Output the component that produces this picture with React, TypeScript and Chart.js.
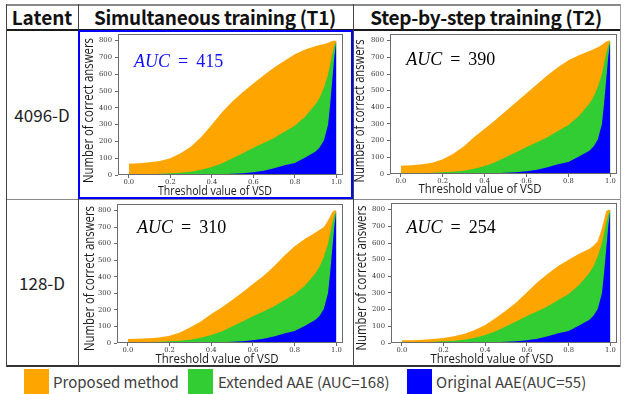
import React, { useEffect, useRef } from "react";
import { Chart, registerables } from "chart.js";
Chart.register(...registerables);

// ---------- data ----------
const X_VALUES = [0, 0.05, 0.1, 0.15, 0.2, 0.25, 0.3, 0.35, 0.4, 0.45, 0.5, 0.55, 0.6, 0.65, 0.7, 0.75, 0.8, 0.85, 0.9, 0.92, 0.94, 0.96, 0.97, 0.98, 0.99, 1.0];
const X_TICKS = [0, 0.2, 0.4, 0.6, 0.8, 1.0];
const Y_TICKS = [0, 100, 200, 300, 400, 500, 600, 700, 800];

const ORIGINAL_AAE = [0, 0, 0, 0, 0, 0, 0, 0, 2, 4, 7, 10, 16, 26, 40, 58, 72, 105, 140, 165, 205, 300, 420, 560, 700, 800];
const EXTENDED_AAE = [2, 3, 5, 7, 10, 14, 20, 32, 48, 70, 100, 130, 162, 190, 220, 258, 294, 348, 422, 462, 520, 600, 660, 720, 770, 800];
const PROPOSED_T1_4096 = [67, 70, 76, 84, 100, 130, 170, 228, 300, 375, 440, 495, 545, 595, 640, 680, 720, 748, 768, 775, 780, 788, 792, 798, 800, 800];
const PROPOSED_T2_4096 = [50, 52, 58, 68, 88, 122, 165, 222, 272, 322, 376, 430, 484, 538, 592, 640, 682, 712, 738, 748, 760, 775, 785, 795, 800, 800];
const PROPOSED_T1_128 = [24, 25, 28, 33, 44, 64, 95, 130, 175, 215, 260, 306, 356, 405, 462, 528, 585, 630, 668, 685, 700, 740, 765, 790, 800, 800];
const PROPOSED_T2_128 = [16, 17, 20, 24, 30, 40, 55, 78, 108, 150, 195, 245, 305, 365, 415, 462, 500, 535, 565, 585, 612, 688, 740, 790, 800, 800];

const AUC_VALUES = [415, 390, 310, 254];
const ROW_LABELS = ["4096-D", "128-D"];
const HEADER_LABELS = ["Latent", "Simultaneous training (T1)", "Step-by-step training (T2)"];
const LEGEND_LABELS = ["Proposed method", "Extended AAE (AUC=168)", "Original AAE(AUC=55)"];
const X_TITLE = "Threshold value of VSD";
const Y_TITLE = "Number of correct answers";

// ---------- styles ----------
const ORANGE = "#FFA500";
const GREEN = "#32CD32";
const BLUE = "#0000FF";
const X_MIN = -0.052;
const X_MAX = 1.032;
const Y_MIN = 0;
const Y_MAX = 840;

type Rect = { l: number; t: number; r: number; b: number };
type PanelSpec = {
  proposed: number[];
  auc: number;
  aucColor: string;
  canvas: { x: number; y: number; w: number; h: number };
  frame: Rect;
  aucPos: { dx: number; dy: number };
  yTitle: { dx: number; dy: number; len: number };
  xTitle: { dx: number; dy: number; len: number };
};

const PANELS: PanelSpec[] = [
  {
    proposed: PROPOSED_T1_4096, auc: AUC_VALUES[0], aucColor: "#1010ff",
    canvas: { x: 80, y: 31, w: 270, h: 166 },
    frame: { l: 118, t: 34, r: 343, b: 175 },
    aucPos: { dx: 16, dy: 32.5 },
    yTitle: { dx: -29.5, dy: 76.5, len: 145 },
    xTitle: { dx: 97, dy: 16, len: 114 },
  },
  {
    proposed: PROPOSED_T2_4096, auc: AUC_VALUES[1], aucColor: "#000000",
    canvas: { x: 354, y: 31, w: 265, h: 166 },
    frame: { l: 390, t: 34, r: 617, b: 174 },
    aucPos: { dx: 16.2, dy: 31 },
    yTitle: { dx: -30, dy: 77, len: 143 },
    xTitle: { dx: 90, dy: 15.5, len: 123 },
  },
  {
    proposed: PROPOSED_T1_128, auc: AUC_VALUES[2], aucColor: "#000000",
    canvas: { x: 80, y: 201, w: 270, h: 164 },
    frame: { l: 117, t: 204, r: 343, b: 343 },
    aucPos: { dx: 20, dy: 29.3 },
    yTitle: { dx: -27.5, dy: 74.5, len: 145 },
    xTitle: { dx: 100, dy: 16, len: 123 },
  },
  {
    proposed: PROPOSED_T2_128, auc: AUC_VALUES[3], aucColor: "#000000",
    canvas: { x: 354, y: 201, w: 265, h: 164 },
    frame: { l: 391, t: 203, r: 617, b: 343 },
    aucPos: { dx: 15.5, dy: 29.5 },
    yTitle: { dx: -29, dy: 75, len: 145 },
    xTitle: { dx: 101, dy: 16, len: 123 },
  },
];

function fitText(ctx: CanvasRenderingContext2D, text: string, cx: number, cy: number, width: number, size: number, rotate: boolean) {
  ctx.save();
  ctx.font = `${size}px "Open Sans"`;
  const w = ctx.measureText(text).width;
  ctx.translate(cx, cy);
  if (rotate) ctx.rotate(-Math.PI / 2);
  ctx.scale(width / w, 1);
  ctx.textAlign = "center";
  ctx.textBaseline = "middle";
  ctx.fillStyle = "#1a1a1a";
  ctx.fillText(text, 0, 0);
  ctx.restore();
}

function Panel({ spec }: { spec: PanelSpec }) {
  const ref = useRef<HTMLCanvasElement | null>(null);
  useEffect(() => {
    const canvas = ref.current;
    if (!canvas) return;
    const { canvas: cv, frame } = spec;
    const yWidth = frame.l - cv.x;
    const xHeight = cv.y + cv.h - frame.b;
    const padTop = frame.t - cv.y;
    const padRight = cv.x + cv.w - frame.r;

    const deco = {
      id: "deco",
      afterDraw(chart: any) {
        const ctx: CanvasRenderingContext2D = chart.ctx;
        const a = chart.chartArea;
        ctx.save();
        ctx.strokeStyle = "#6b6b6b";
        ctx.lineWidth = 1;
        ctx.strokeRect(a.left + 0.5, a.top + 0.5, a.right - a.left - 1, a.bottom - a.top - 1);
        ctx.restore();
        // AUC annotation
        const x0 = a.left + spec.aucPos.dx;
        const y0 = a.top + spec.aucPos.dy;
        ctx.save();
        ctx.fillStyle = spec.aucColor;
        ctx.textBaseline = "alphabetic";
        ctx.textAlign = "left";
        ctx.font = 'italic 18px "Liberation Serif"';
        const wAuc = ctx.measureText("AUC").width;
        ctx.fillText("AUC", x0, y0);
        ctx.font = '18px "Liberation Serif"';
        const xEq = x0 + wAuc + 8;
        const wEq = ctx.measureText("=").width;
        ctx.fillText("=", xEq, y0);
        ctx.fillText(String(spec.auc), xEq + wEq + 8, y0);
        ctx.restore();
        // axis titles
        fitText(ctx, Y_TITLE, a.left + spec.yTitle.dx, a.top + spec.yTitle.dy, spec.yTitle.len, 14.5, true);
        fitText(ctx, X_TITLE, a.left + spec.xTitle.dx, a.bottom + spec.xTitle.dy, spec.xTitle.len, 13.5, false);
      },
    };

    const mk = (vals: number[]) => X_VALUES.map((x, i) => ({ x, y: vals[i] }));
    const tickFont = { family: "DejaVu Serif", size: 6.8 };
    const grid = { display: true, drawOnChartArea: false, drawTicks: true, tickLength: 3, color: "#444", lineWidth: 0.8 };

    const chart = new Chart(canvas, {
      type: "line",
      data: {
        datasets: [
          { label: "Original AAE", data: mk(ORIGINAL_AAE), backgroundColor: BLUE, borderColor: BLUE, borderWidth: 0, pointRadius: 0, fill: "origin" },
          { label: "Extended AAE", data: mk(EXTENDED_AAE), backgroundColor: GREEN, borderColor: GREEN, borderWidth: 0, pointRadius: 0, fill: "origin" },
          { label: "Proposed method", data: mk(spec.proposed), backgroundColor: ORANGE, borderColor: ORANGE, borderWidth: 0, pointRadius: 0, fill: "origin" },
        ],
      } as any,
      options: {
        animation: false,
        responsive: false,
        devicePixelRatio: 1,
        layout: { padding: { left: 0, top: padTop, right: padRight, bottom: 0 } },
        elements: { line: { tension: 0 } },
        plugins: { legend: { display: false }, tooltip: { enabled: false } },
        scales: {
          x: {
            type: "linear",
            min: X_MIN,
            max: X_MAX,
            grid,
            border: { display: false },
            ticks: {
              font: tickFont,
              color: "#333",
              padding: 0,
              maxRotation: 0,
              autoSkip: false,
              callback: (v: any) => Number(v).toFixed(1),
            },
            afterBuildTicks: (s: any) => {
              s.ticks = X_TICKS.map((v) => ({ value: v }));
            },
            afterFit: (s: any) => {
              s.height = xHeight;
              s.paddingLeft = 0;
              s.paddingRight = 0;
            },
          },
          y: {
            type: "linear",
            min: Y_MIN,
            max: Y_MAX,
            grid,
            border: { display: false },
            ticks: {
              font: tickFont,
              color: "#333",
              padding: 3,
              autoSkip: false,
              callback: (v: any) => String(v),
            },
            afterBuildTicks: (s: any) => {
              s.ticks = Y_TICKS.map((v) => ({ value: v }));
            },
            afterFit: (s: any) => {
              s.width = yWidth;
              s.paddingTop = 0;
              s.paddingBottom = 0;
            },
          },
        },
      } as any,
      plugins: [deco],
    });
    return () => chart.destroy();
  }, [spec]);
  return (
    <canvas
      ref={ref}
      width={spec.canvas.w}
      height={spec.canvas.h}
      style={{ position: "absolute", left: spec.canvas.x, top: spec.canvas.y, width: spec.canvas.w, height: spec.canvas.h }}
    />
  );
}

function Line({ l, t, w, h, c }: { l: number; t: number; w: number; h: number; c: string }) {
  return <div style={{ position: "absolute", left: l, top: t, width: w, height: h, background: c }} />;
}

const CJK = '"Noto Sans CJK JP", "Noto Sans", sans-serif';

export default function App() {
  const headerCells = [
    { x: 6, w: 72 },
    { x: 78, w: 274 },
    { x: 352, w: 268 },
  ];
  const rowCells = [
    { y: 30, h: 168 },
    { y: 199, h: 167 },
  ];
  const legendItems = [
    { sx: 24, tx: 53, color: ORANGE },
    { sx: 188, tx: 218, color: GREEN },
    { sx: 407, tx: 436, color: BLUE },
  ];
  return (
    <div style={{ position: "absolute", left: 0, top: 0, width: 624, height: 394, background: "#fff", overflow: "hidden" }}>
      {/* table lines */}
      <Line l={6} t={4} w={615} h={1.5} c="#8a8a8a" />
      <Line l={6} t={28.5} w={615} h={2} c="#1a1a1a" />
      <Line l={6} t={198.5} w={615} h={1.5} c="#8a8a8a" />
      <Line l={6} t={365} w={615} h={1.5} c="#333" />
      <Line l={5.5} t={4} w={1.5} h={362.5} c="#444" />
      <Line l={77.5} t={4} w={1.5} h={362.5} c="#444" />
      <Line l={352.5} t={4} w={1.5} h={362.5} c="#444" />
      <Line l={619.5} t={4} w={1} h={362.5} c="#9a9a9a" />

      {HEADER_LABELS.map((txt, i) => (
        <div
          key={txt}
          style={{
            position: "absolute", left: headerCells[i].x, top: 4, width: headerCells[i].w, height: 25,
            display: "flex", alignItems: "center", justifyContent: "center",
            font: `bold 19px ${CJK}`, color: "#111", whiteSpace: "nowrap", letterSpacing: i === 0 ? 0 : -0.3,
          }}
        >
          {txt}
        </div>
      ))}

      {ROW_LABELS.map((txt, i) => (
        <div
          key={txt}
          style={{
            position: "absolute", left: 6, top: rowCells[i].y, width: 72, height: rowCells[i].h,
            display: "flex", alignItems: "center", justifyContent: "center",
            font: `17px ${CJK}`, color: "#222", whiteSpace: "nowrap",
          }}
        >
          {txt}
        </div>
      ))}

      {PANELS.map((p, i) => (
        <Panel key={i} spec={p} />
      ))}

      {/* highlight box */}
      <div style={{ position: "absolute", left: 78, top: 29.5, width: 275, height: 169.5, border: "2px solid #0000ff", boxSizing: "border-box" }} />

      {/* legend */}
      {legendItems.map((it, i) => (
        <React.Fragment key={i}>
          <div style={{ position: "absolute", left: it.sx, top: 369, width: 25, height: 25, background: it.color }} />
          <div
            style={{
              position: "absolute", left: it.tx, top: 369, height: 25, display: "flex", alignItems: "center",
              font: `15px ${CJK}`, color: "#404040", whiteSpace: "nowrap",
            }}
          >
            {LEGEND_LABELS[i]}
          </div>
        </React.Fragment>
      ))}
    </div>
  );
}
